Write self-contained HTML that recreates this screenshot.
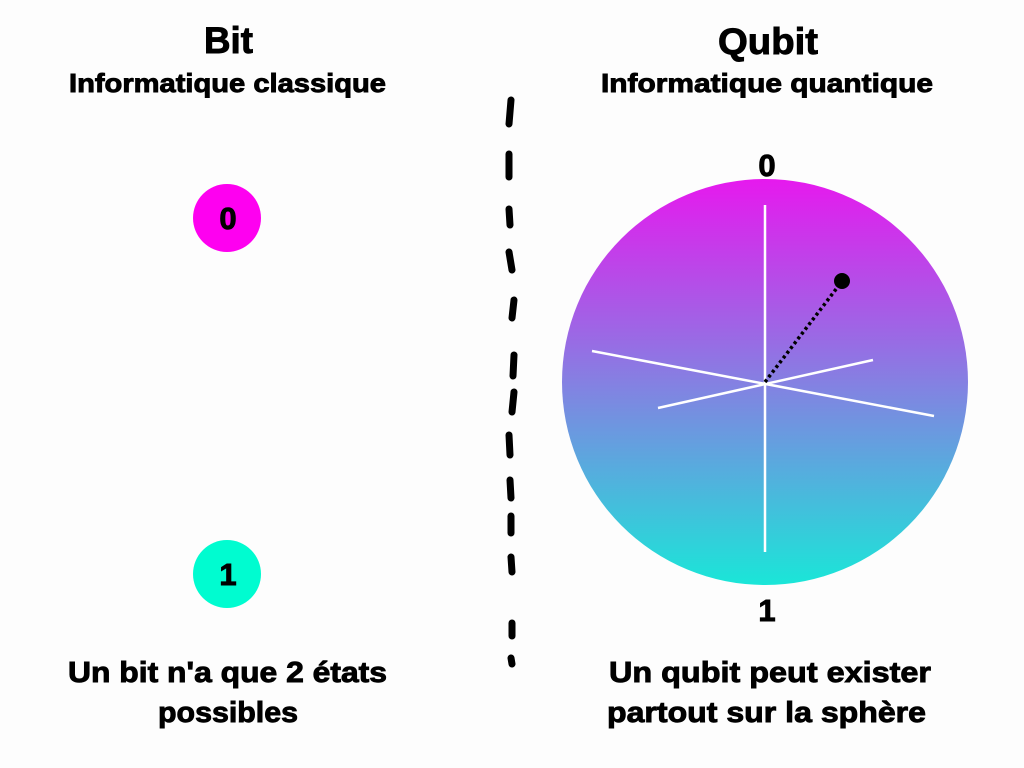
<!DOCTYPE html>
<html><head><meta charset="utf-8"><style>html,body{margin:0;padding:0;background:#fdfdfd}</style></head>
<body>
<svg width="1024" height="768" viewBox="0 0 1024 768" xmlns="http://www.w3.org/2000/svg" style="display:block">
<defs>
<linearGradient id="g" x1="0" y1="0" x2="0" y2="1">
<stop offset="0" stop-color="#e619ee"/>
<stop offset="0.5" stop-color="#8580e2"/>
<stop offset="1" stop-color="#1ae6d8"/>
</linearGradient>
</defs>
<rect width="1024" height="768" fill="#fdfdfd"/>
<g font-family="Liberation Sans, sans-serif" font-weight="bold" fill="#000" stroke="#000" stroke-width="0.9" text-anchor="start">
<text x="204" y="53" font-size="37" textLength="49" lengthAdjust="spacingAndGlyphs">Bit</text>
<text x="69" y="92" font-size="26" textLength="317" lengthAdjust="spacingAndGlyphs">Informatique classique</text>
<text x="718" y="54" font-size="37" textLength="100" lengthAdjust="spacingAndGlyphs">Qubit</text>
<text x="601" y="92" font-size="26" textLength="332" lengthAdjust="spacingAndGlyphs">Informatique quantique</text>
<text x="68" y="682" font-size="29" textLength="319" lengthAdjust="spacingAndGlyphs">Un bit n'a que 2 états</text>
<text x="158" y="722" font-size="29" textLength="140" lengthAdjust="spacingAndGlyphs">possibles</text>
<text x="609" y="682" font-size="29" textLength="322" lengthAdjust="spacingAndGlyphs">Un qubit peut exister</text>
<text x="607" y="722" font-size="29" textLength="319" lengthAdjust="spacingAndGlyphs">partout sur la sphère</text>
</g>
<circle cx="227" cy="218" r="34" fill="#fe00f0"/>
<circle cx="227" cy="574" r="34" fill="#00fcd0"/>
<g font-family="Liberation Sans, sans-serif" font-weight="bold" font-size="31" text-anchor="middle" stroke="#000" stroke-width="0.9">
<text x="228" y="229">0</text>
<text x="228" y="585">1</text>
<text x="767" y="176">0</text>
<text x="767" y="621">1</text>
</g>
<circle cx="765" cy="382" r="203" fill="url(#g)"/>
<g stroke="#fff" stroke-width="2.5">
<line x1="765" y1="205" x2="765" y2="552"/>
<line x1="592" y1="351" x2="934" y2="416"/>
<line x1="658" y1="408" x2="873" y2="360"/>
</g>
<line x1="765" y1="382" x2="840" y2="284" stroke="#000" stroke-width="3.5" stroke-dasharray="3 3"/>
<circle cx="842" cy="281" r="8" fill="#000"/>
<g stroke="#000" stroke-width="7" stroke-linecap="round">
<line x1="511" y1="100" x2="509" y2="124"/>
<line x1="509" y1="154" x2="509" y2="177"/>
<line x1="509" y1="209" x2="510" y2="225"/>
<line x1="509" y1="252" x2="512" y2="270"/>
<line x1="514" y1="300" x2="512" y2="318"/>
<line x1="514" y1="355" x2="513" y2="376"/>
<line x1="514" y1="392" x2="512" y2="412"/>
<line x1="509" y1="435" x2="510" y2="455"/>
<line x1="510" y1="480" x2="511" y2="498"/>
<line x1="511" y1="516" x2="511" y2="533"/>
<line x1="511" y1="557" x2="512" y2="572"/>
<line x1="512" y1="623" x2="512" y2="636"/>
<line x1="511" y1="658" x2="512" y2="664"/>
</g>
</svg>
</body></html>
